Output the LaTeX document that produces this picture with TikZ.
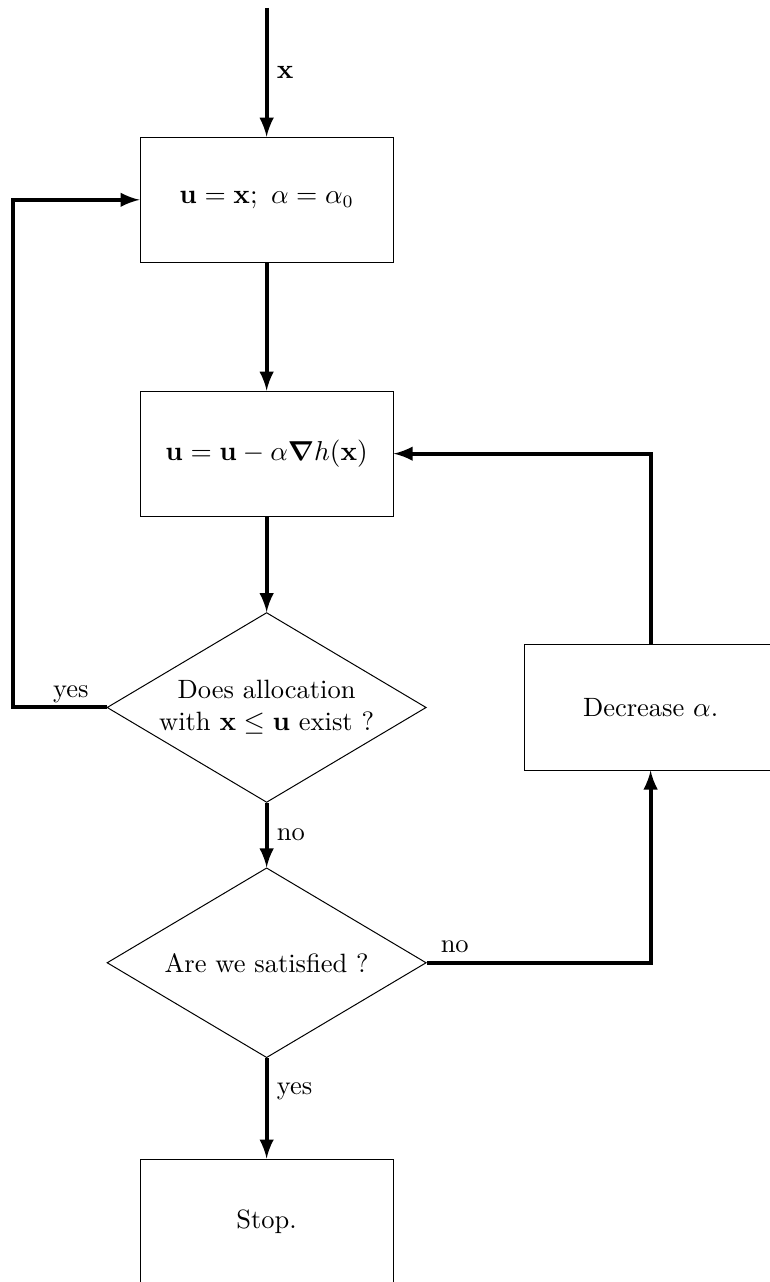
\documentclass[tikz,border=0pt]{standalone}
\usepackage{amsmath}
\usepackage{tikz}
\usetikzlibrary{calc}
\usetikzlibrary{arrows}
\usetikzlibrary{shapes.geometric}

\begin{document}
\begin{tikzpicture}[
        every node/.style = {font=\fontsize{10.6pt}{12.8pt}\selectfont},
        block/.style    = {draw, thin, rectangle, minimum width=3.56cm, minimum height=1.76cm},
        decision/.style = {draw, thin, diamond, inner sep=0pt, align=center, shape aspect=1.68,
                           minimum width=4.49cm, minimum height=2.67cm},
        flow/.style     = {ultra thick, -latex}]
            % Frame to ensure alignment:
            \useasboundingbox                               ( -3.75,   0.00) rectangle (7.07, -18.03);
            \coordinate (start)                          at (  0.00,  -0.11);
            \coordinate (loop)                           at ( -3.57,   0.00);
            % Blocks and decisions:
            \node[block]    (init)                       at (  0.00,  -2.81) {$\mathbf{u} = \mathbf{x};\ \alpha = \alpha_0$};
            \node[block]    (grad)                       at (  0.00,  -6.38) {$\mathbf{u} = \mathbf{u} - \alpha \boldsymbol{\nabla} h(\mathbf{x})$};
            \node[decision] (alloc)                      at (  0.00,  -9.95) {Does allocation\\ with $\mathbf{x} \leq \mathbf{u}$ exist ?};
            \node[decision] (sat)                        at (  0.00, -13.54) {Are we satisfied ?};
            \node[block]    (dec)                        at (  5.40,  -9.95) {Decrease $\alpha$.};
            \node[block]    (stop)                       at (  0.00, -17.18) {Stop.};
            % Connectors:
            \draw[flow] (start) -- node[right] {$\mathbf{x}$} (init);
            \draw[flow] (init)  -- (grad);
            \draw[flow] (grad)  -- (alloc);
            \draw[flow] (alloc.west) -- node[pos=0.38, above, text depth=0pt] {yes} (alloc.west -| loop) |- (init.west);
            \draw[flow] (alloc) -- node[right] {no} (sat);
            \draw[flow] (sat.east) -- node[pos=0.125, above] {no} (sat.east -| dec.south) -- (dec.south);
            \draw[flow] (dec.north) |- (grad.east);
            \draw[flow] (sat)   -- node[pos=0.33, right] {yes} (stop);
        \end{tikzpicture}
\end{document}
